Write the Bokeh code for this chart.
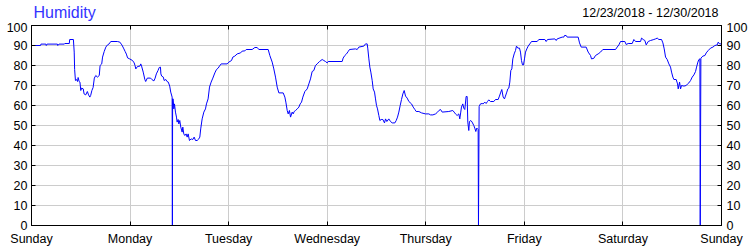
from bokeh.plotting import figure
from bokeh.models import Range1d, LinearAxis, FixedTicker, Label
from bokeh.layouts import column
from bokeh.embed import file_html
from bokeh.resources import INLINE

title_text = "Humidity"
date_range_text = "12/23/2018 - 12/30/2018"
day_labels = ["Sunday", "Monday", "Tuesday", "Wednesday", "Thursday", "Friday", "Saturday", "Sunday"]
day_ticks = [0, 24, 48, 72, 96, 120, 144, 168]
y_ticks = [0, 10, 20, 30, 40, 50, 60, 70, 80, 90, 100]

# hours since Sunday 00:00
hours = [
    0, 2.2, 2.3, 3.5, 3.6, 3.8, 6.3, 6.4, 6.7, 8.0, 8.1, 9.2, 9.3, 10.2,
    10.4, 10.5, 10.7, 10.95, 11.2, 11.35, 11.6, 11.8, 12.0, 12.2, 12.6, 12.8,
    13.2, 13.6, 13.9, 14.2, 14.4, 14.7, 15.0, 15.3, 15.65, 16.05, 16.5, 16.7,
    17.1, 17.3, 17.7, 18.1, 18.5, 18.9, 19.3, 20.9, 21.5, 22.0, 22.4, 22.8,
    23.1, 23.4, 23.9, 24.6, 25.0, 25.2, 25.4, 25.8, 26.4, 26.6, 26.8, 27.2,
    27.6, 27.8, 28.2, 29.0, 29.3, 29.8, 30.1, 30.4, 30.8, 31.1, 31.4, 31.5,
    31.7, 32.1, 32.3, 32.7, 33.0, 33.3, 33.65, 33.9,
    34.24, 34.3, 34.36, 34.49, 34.65, 34.81, 35.05, 35.3, 35.46, 35.7, 35.87,
    36.1, 36.35, 36.68, 36.84, 37.08, 37.33, 37.65, 37.9, 38.14, 38.46, 38.87,
    39.28, 39.6, 39.93, 40.33, 40.74, 40.98, 41.2, 41.55, 41.96, 42.36, 42.6,
    43.0, 43.34, 43.74, 44.15, 44.64, 45.04, 45.45, 45.77, 46.18, 47.64, 48.05,
    48.7, 49.02, 49.5, 50.08, 50.9, 51.3, 51.94, 52.27, 53.73, 54.38, 54.95,
    55.35, 57.63, 58.03, 58.6, 59.0, 59.41, 59.82, 60.23, 61.28, 61.69, 61.93,
    62.26, 62.5, 62.8, 63.07, 63.47, 63.72, 63.96, 64.29, 64.7, 65.1, 65.42,
    65.75, 66.07, 66.56, 67.13, 67.53, 67.93,
    68.33, 68.74, 69.14, 69.55, 70.12, 70.77, 71.17, 71.58, 71.99, 72.23,
    75.64, 75.88, 76.29, 76.7, 77.1, 77.43, 78.89, 79.3, 79.7, 80.92, 81.32,
    81.73, 81.89, 82.14, 82.38, 82.62, 82.95, 83.19, 83.52, 83.76, 84.0, 84.25,
    84.57, 84.82, 85.14, 85.55, 85.95, 86.2, 86.52, 87.0, 87.41, 87.82, 88.47,
    88.8, 89.12, 89.44, 89.77, 90.09, 90.42, 90.74, 91.07, 91.47, 91.88, 92.53,
    92.94, 93.34, 93.67, 94.32, 94.97, 95.94, 96.75, 97.16, 97.73, 98.38,
    98.78, 99.19, 99.59, 100.0, 101.6,
    102.57, 102.9, 103.22, 103.63, 104.04, 104.28, 104.52, 104.69, 105.01,
    105.25, 105.5, 105.82, 106.07, 106.23, 106.47, 106.63, 106.96, 107.28,
    107.69, 107.93, 108.18, 108.42, 108.75, 108.83, 108.99, 109.31, 109.72,
    109.96, 110.37, 110.69, 111.02, 111.34, 111.75, 112.56, 112.97, 113.62,
    113.94, 114.27, 114.51, 114.84, 115.16, 115.4, 115.73, 115.97, 116.22,
    116.46, 116.7, 116.95, 117.19, 117.52, 117.84, 118.08, 118.41, 118.81,
    119.06, 119.3, 119.55, 119.79, 120.03, 120.28, 120.6, 120.93, 121.33,
    121.74, 123.12, 123.52, 124.99, 125.31, 125.64, 127.42, 127.75, 127.99,
    129.21, 129.61, 129.78, 130.18, 130.43, 133.1, 133.43, 133.84, 135.05,
    135.54, 136.11,
    136.35, 136.92, 137.32, 137.97, 138.54, 139.11, 142.2, 142.6, 143.01,
    143.41, 144.47, 144.79, 145.28, 146.26, 146.66, 147.07, 148.29, 148.53,
    148.94, 149.34, 149.67, 150.15, 150.72, 151.53, 151.94, 152.35, 152.75,
    153.4, 153.73, 154.05, 154.38, 154.78, 155.19, 155.59, 155.84, 156.16,
    156.41, 156.97, 157.3, 157.46, 157.79, 158.03, 158.27, 158.84, 159.41,
    159.74, 160.06, 160.47, 160.87, 161.28, 161.68, 161.93, 162.25, 162.5,
    162.74, 162.82, 162.98, 163.47, 163.96, 164.28, 164.77, 165.34, 165.91,
    166.39, 166.96, 167.21, 167.53, 168.0,
]

humidity = [
    90, 90, 90.7, 90.7, 90, 90.7, 90.7, 90, 90.7, 90.7, 91, 91, 93, 93,
    86.7, 78, 72.5, 73, 72, 74, 72, 71.7, 67.5, 68.7, 68.3, 65.8,
    65.3, 67, 65.3, 64.2, 65, 67.5, 69, 73.7, 75, 74.2, 75, 80,
    80.8, 84.2, 87, 89.2, 90.3, 90.8, 92, 92, 91.7, 90.3, 88.7, 87,
    85.7, 83.8, 83.3, 82.5, 81.3, 80, 78.3, 79.5, 79.7, 80.8, 79.7, 76.7,
    73, 72, 73.7, 73.7, 73, 72.3, 73.7, 75.8, 77.5, 79, 79.2, 75.8,
    74.7, 74.2, 72.5, 73, 72, 71.7, 69.7, 66.7,
    64.2, 0, 63.3, 63.3, 58.3, 60.8, 56.7, 54.2, 51.7, 53, 50.8,
    52.5, 49.2, 46.7, 49.2, 45.8, 45, 45.8, 44.2, 45.8, 42.5, 43.3,
    43, 44.2, 42.5, 42.5, 43.3, 44.2, 48.3, 53.3, 56.7, 58.3, 60.8,
    63.3, 69.2, 71.7, 73.7, 76.3, 78, 78.7, 79.7, 80.8, 80.8, 81.7,
    82.5, 84.2, 84.7, 85.8, 86.3, 87.2, 87.3, 88, 88, 89, 89,
    88, 88, 85, 81.7, 78.3, 74.2, 69.2, 66.3, 66.3, 64.2, 61.7,
    57.5, 55.8, 57.5, 54.2, 56.7, 55.8, 57, 57.5, 58.3, 59.2, 60.8,
    61.7, 64.2, 67, 68.3, 70.8, 73.3,
    77, 77.5, 80, 80.8, 82, 83, 82.5, 82, 81.3, 82,
    82, 83.7, 85, 85.8, 87, 88, 88.3, 88, 89.2, 89.7, 90.8,
    90.8, 88.3, 83.3, 79.2, 76.7, 72.5, 68.3, 66.7, 63.3, 60, 58.3,
    55, 52.5, 53, 53, 51.3, 53.3, 52, 53.3, 52, 51.3, 51.3,
    52.5, 54.2, 56.7, 60, 63, 65.8, 67.5, 64.7, 63.7, 62, 60.8,
    59.2, 58, 57, 57, 56.3, 55.8, 55.8, 55.3, 55.3, 55.8,
    56.5, 57.5, 58, 56.7, 57,
    57.5, 56.7, 55.8, 55, 55.8, 53.3, 56.7, 59.2, 60.8,
    58.7, 58, 64.5, 64.5, 51.7, 47.5, 52, 52.5, 51.7,
    50, 48.7, 47, 48.7, 48, 0, 59.5, 60.8, 61,
    60.8, 61.7, 61, 62, 62.8, 62, 62, 63, 63,
    64.7, 66.7, 68, 64.2, 63.3, 64.7, 66.7, 68.3, 68.7,
    71.7, 77.5, 78.3, 83.3, 85.8, 87.5, 89.7, 88.7, 88.7,
    86.7, 82.5, 80.3, 80.3, 83.3, 86.7, 88.3, 89.7, 90.8,
    92, 92, 93, 93, 92, 93, 93.3, 92.5, 93.3,
    94.2, 94.2, 95, 95, 94.2, 94.2, 91.3, 89.2, 89.2,
    86.7, 85,
    83.3, 83.6, 85, 85.8, 86.7, 88, 88, 89.2, 90.3,
    92, 92, 90.5, 91, 91, 93, 92, 92, 93.7,
    93, 92.5, 90.3, 92, 92.5, 93, 93.3, 93.7, 93,
    93, 91.3, 88.3, 84.2, 83, 80.8, 79.2, 76.7, 74.2,
    73, 73, 70.8, 68.3, 71.7, 68.3, 70, 69.7, 70,
    70.8, 71.3, 72.5, 74.2, 75.3, 77, 79.2, 81.7, 83,
    83.3, 0, 83.7, 84.7, 85, 86.3, 87.5, 88.7, 89.2,
    90, 90.3, 91.7, 90.8, 90.8,
]

FONT = "Liberation Sans"
HEADER_H = 22

# header strip holding the chart title and the date range
# (its frame is aligned by the column layout with the main plot's frame)
hdr = figure(width=750, height=HEADER_H, output_backend="svg", toolbar_location=None,
             x_range=Range1d(0, 1), y_range=Range1d(0, 1),
             x_axis_location=None, y_axis_location=None,
             min_border_left=0, min_border_right=0, min_border_top=0, min_border_bottom=0)
hdr.outline_line_color = None
hdr.xgrid.visible = False
hdr.ygrid.visible = False
hdr.background_fill_color = "white"
hdr.border_fill_color = "white"
hdr.add_layout(Label(x=2, y=HEADER_H - 12, x_units="screen", y_units="screen", text=title_text,
                     text_font=FONT, text_font_size="16px", text_color="#3333ff",
                     text_baseline="middle", text_align="left"))
hdr.add_layout(Label(x=687, y=HEADER_H - 12, x_units="screen", y_units="screen", text=date_range_text,
                     text_font=FONT, text_font_size="12.5px", text_color="black",
                     text_baseline="middle", text_align="right"))

p = figure(width=750, height=250 - HEADER_H, output_backend="svg", toolbar_location=None,
           x_range=Range1d(0, 168), y_range=Range1d(0, 100),
           min_border_left=31, min_border_right=29, min_border_top=25 - HEADER_H, min_border_bottom=25,
           x_axis_location="below", y_axis_location="left")
p.background_fill_color = "white"
p.border_fill_color = "white"
p.outline_line_color = "black"
p.outline_line_width = 1

p.line(hours, humidity, line_color="#0000ff", line_width=1)

xa = p.xaxis[0]
xa.ticker = FixedTicker(ticks=day_ticks)
xa.major_label_overrides = {t: l for t, l in zip(day_ticks, day_labels)}
ya = p.yaxis[0]
ya.ticker = FixedTicker(ticks=y_ticks)

ra = LinearAxis(ticker=FixedTicker(ticks=y_ticks))
p.add_layout(ra, "right")
ta = LinearAxis(ticker=FixedTicker(ticks=day_ticks))
p.add_layout(ta, "above")

for ax in [xa, ya, ra, ta]:
    ax.axis_line_color = "black"
    ax.axis_line_width = 1
    ax.major_tick_line_color = "black"
    ax.major_tick_in = 4
    ax.major_tick_out = 0
    ax.minor_tick_line_color = None
    ax.major_label_text_font = FONT
    ax.major_label_text_color = "black"
    ax.major_label_text_font_size = "12.5px"
ta.major_label_text_font_size = "0px"
ta.major_label_standoff = 0
ta.major_label_overrides = {t: "" for t in day_ticks}
xa.major_label_standoff = 6
ya.major_label_standoff = 4
ra.major_label_standoff = 5

p.xgrid.ticker = FixedTicker(ticks=day_ticks)
p.ygrid.ticker = FixedTicker(ticks=y_ticks)
p.xgrid.grid_line_color = "#cccccc"
p.ygrid.grid_line_color = "#cccccc"

layout = column(hdr, p, spacing=0)
open("out.html", "w").write(file_html(layout, INLINE))
